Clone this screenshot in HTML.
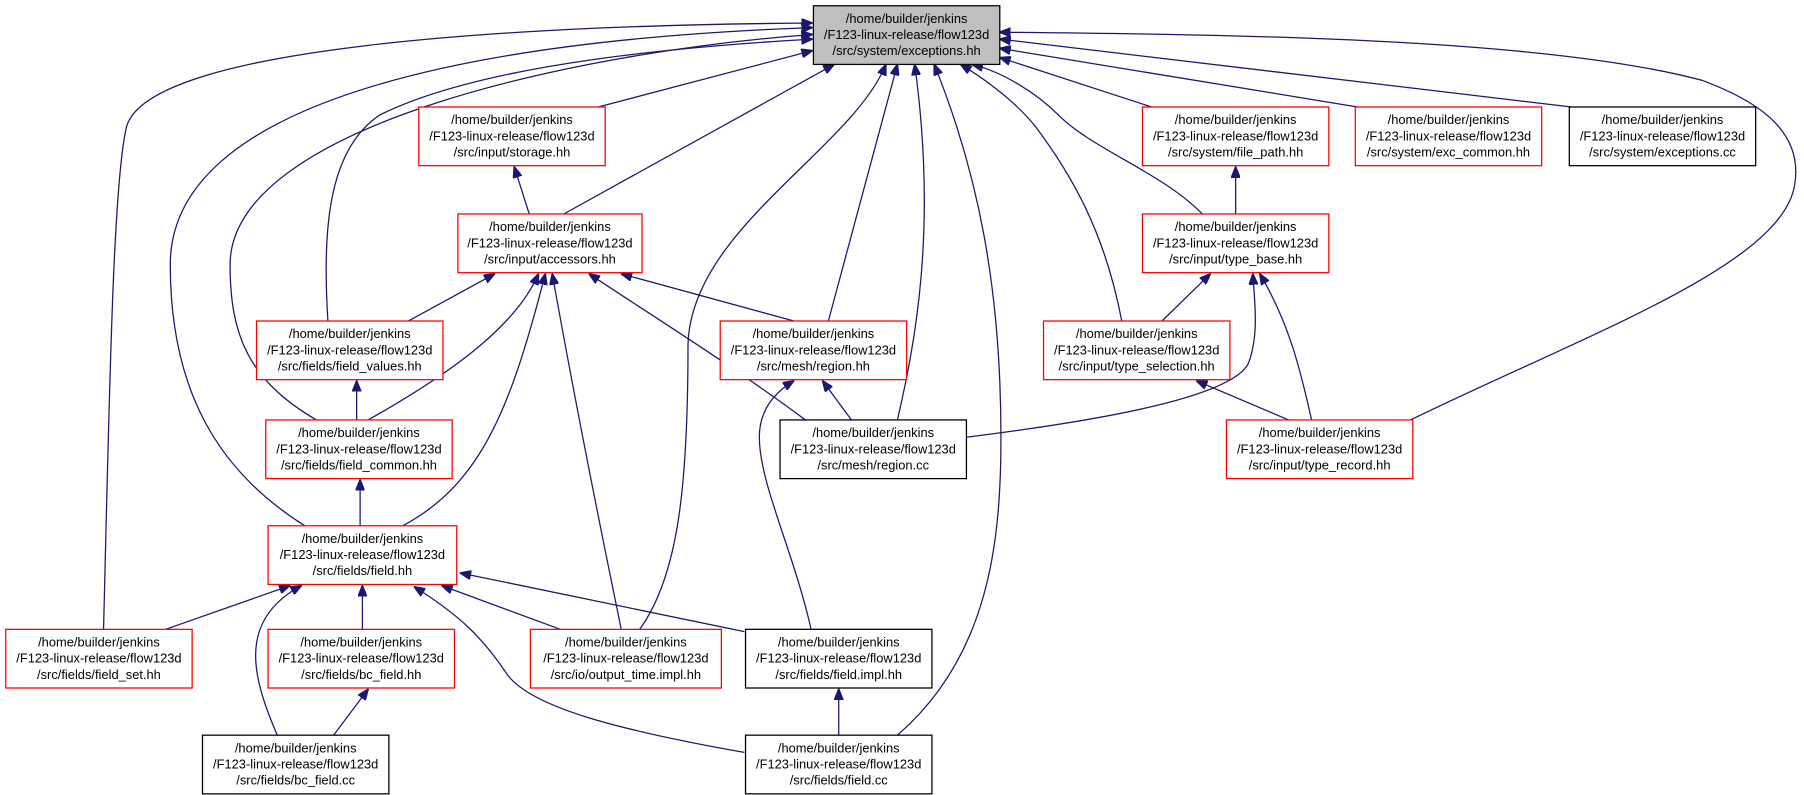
<!DOCTYPE html>
<html><head><meta charset="utf-8"><style>
html,body{margin:0;padding:0;background:#fff;}
svg{display:block;}
text{font-family:"Liberation Sans",Helvetica,Arial,sans-serif;font-size:11.2px;fill:#000;text-anchor:middle;}
.e{fill:none;stroke:#191970;stroke-width:1.1;}
.r{fill:#fff;stroke:#ff0000;stroke-width:1.1;}
.b{fill:#fff;stroke:#000;stroke-width:1.1;}
</style></head><body>
<svg width="1804" height="795" viewBox="0 0 1568 691" preserveAspectRatio="none" xmlns="http://www.w3.org/2000/svg">
<defs><marker id="a" markerWidth="10" markerHeight="8" refX="9.5" refY="4" orient="auto" markerUnits="userSpaceOnUse"><path d="M0,0 L10,4 L0,8 Z" fill="#191970" stroke="#191970"/></marker></defs>
<g class="e" marker-end="url(#a)">
<!-- to exceptions.hh -->
<path d="M90,547 C95,350 98,160 110,110 C130,40 450,22 706,20"/>
<path d="M265,457 C190,410 148,340 148,230 C148,90 400,35 706,24"/>
<path d="M275,365 C215,330 200,290 200,230 C200,110 500,45 706,30"/>
<path d="M285,279 C280,200 285,130 330,100 C420,55 600,40 706,34"/>
<path d="M520,93 L706,44"/>
<path d="M490,186 L725,56"/>
<path d="M556,547 C590,500 598,420 598,300 C600,200 740,130 770,56"/>
<path d="M720,279 L780,56"/>
<path d="M780,365 C795,300 815,200 795,56"/>
<path d="M780,639 C860,570 870,470 870,380 C870,250 850,150 812,56"/>
<path d="M975,279 C960,200 930,150 900,110 C880,85 850,65 835,56"/>
<path d="M1045,186 C1010,150 950,130 920,100 C900,80 870,62 845,56"/>
<path d="M1001,93 L869,50"/>
<path d="M1180,93 L869,42"/>
<path d="M1366,93 L869,34"/>
<path d="M1226,365 C1380,290 1550,230 1560,160 C1568,110 1520,85 1480,70 C1350,35 1100,30 869,28"/>
<!-- others -->
<path d="M460,186 L447,145"/>
<path d="M1074,186 L1074,145"/>
<path d="M355,279 L430,238"/>
<path d="M320,365 C400,320 450,280 468,238"/>
<path d="M350,457 C420,420 445,350 474,238"/>
<path d="M540,547 C520,450 500,350 480,238"/>
<path d="M700,365 C640,320 560,270 512,238"/>
<path d="M690,279 L540,238"/>
<path d="M740,365 L715,331"/>
<path d="M705,547 C690,480 660,420 660,380 C660,355 675,340 690,331"/>
<path d="M1010,279 L1052,238"/>
<path d="M840,380 C960,365 1070,345 1085,316 C1095,290 1090,260 1089,238"/>
<path d="M1140,365 C1130,320 1120,280 1095,238"/>
<path d="M1120,365 L1040,331"/>
<path d="M310,365 L310,331"/>
<path d="M313,457 L313,417"/>
<path d="M144,547 L252,509"/>
<path d="M241,639 C220,590 205,540 262,509"/>
<path d="M315,547 L315,509"/>
<path d="M487,547 L384,509"/>
<path d="M647,549 L400,498"/>
<path d="M647,654 C540,635 460,615 440,585 C420,555 400,535 360,510"/>
<path d="M290,639 L320,599"/>
<path d="M729,639 L729,599"/>
</g>
<g>
<rect x="707" y="5" width="162" height="51" fill="#bfbfbf" stroke="#000" stroke-width="1.1"/>
<text x="788" y="20">/home/builder/jenkins</text><text x="788" y="34">/F123-linux-release/flow123d</text><text x="788" y="48">/src/system/exceptions.hh</text>

<rect class="r" x="364" y="93" width="162" height="51"/>
<text x="445" y="108">/home/builder/jenkins</text><text x="445" y="122">/F123-linux-release/flow123d</text><text x="445" y="136">/src/input/storage.hh</text>

<rect class="r" x="398" y="186" width="160" height="51"/>
<text x="478" y="201">/home/builder/jenkins</text><text x="478" y="215">/F123-linux-release/flow123d</text><text x="478" y="229">/src/input/accessors.hh</text>

<rect class="r" x="993" y="93" width="162" height="51"/>
<text x="1074" y="108">/home/builder/jenkins</text><text x="1074" y="122">/F123-linux-release/flow123d</text><text x="1074" y="136">/src/system/file_path.hh</text>

<rect class="r" x="1178" y="93" width="162" height="51"/>
<text x="1259" y="108">/home/builder/jenkins</text><text x="1259" y="122">/F123-linux-release/flow123d</text><text x="1259" y="136">/src/system/exc_common.hh</text>

<rect class="b" x="1364" y="93" width="162" height="51"/>
<text x="1445" y="108">/home/builder/jenkins</text><text x="1445" y="122">/F123-linux-release/flow123d</text><text x="1445" y="136">/src/system/exceptions.cc</text>

<rect class="r" x="993" y="186" width="162" height="51"/>
<text x="1074" y="201">/home/builder/jenkins</text><text x="1074" y="215">/F123-linux-release/flow123d</text><text x="1074" y="229">/src/input/type_base.hh</text>

<rect class="r" x="223" y="279" width="162" height="51"/>
<text x="304" y="294">/home/builder/jenkins</text><text x="304" y="308">/F123-linux-release/flow123d</text><text x="304" y="322">/src/fields/field_values.hh</text>

<rect class="r" x="626" y="279" width="162" height="51"/>
<text x="707" y="294">/home/builder/jenkins</text><text x="707" y="308">/F123-linux-release/flow123d</text><text x="707" y="322">/src/mesh/region.hh</text>

<rect class="r" x="907" y="279" width="162" height="51"/>
<text x="988" y="294">/home/builder/jenkins</text><text x="988" y="308">/F123-linux-release/flow123d</text><text x="988" y="322">/src/input/type_selection.hh</text>

<rect class="r" x="231" y="365" width="162" height="51"/>
<text x="312" y="380">/home/builder/jenkins</text><text x="312" y="394">/F123-linux-release/flow123d</text><text x="312" y="408">/src/fields/field_common.hh</text>

<rect class="b" x="678" y="365" width="162" height="51"/>
<text x="759" y="380">/home/builder/jenkins</text><text x="759" y="394">/F123-linux-release/flow123d</text><text x="759" y="408">/src/mesh/region.cc</text>

<rect class="r" x="1066" y="365" width="162" height="51"/>
<text x="1147" y="380">/home/builder/jenkins</text><text x="1147" y="394">/F123-linux-release/flow123d</text><text x="1147" y="408">/src/input/type_record.hh</text>

<rect class="r" x="233" y="457" width="164" height="51"/>
<text x="315" y="472">/home/builder/jenkins</text><text x="315" y="486">/F123-linux-release/flow123d</text><text x="315" y="500">/src/fields/field.hh</text>

<rect class="r" x="5" y="547" width="162" height="51"/>
<text x="86" y="562">/home/builder/jenkins</text><text x="86" y="576">/F123-linux-release/flow123d</text><text x="86" y="590">/src/fields/field_set.hh</text>

<rect class="r" x="233" y="547" width="162" height="51"/>
<text x="314" y="562">/home/builder/jenkins</text><text x="314" y="576">/F123-linux-release/flow123d</text><text x="314" y="590">/src/fields/bc_field.hh</text>

<rect class="r" x="461" y="547" width="166" height="51"/>
<text x="544" y="562">/home/builder/jenkins</text><text x="544" y="576">/F123-linux-release/flow123d</text><text x="544" y="590">/src/io/output_time.impl.hh</text>

<rect class="b" x="648" y="547" width="162" height="51"/>
<text x="729" y="562">/home/builder/jenkins</text><text x="729" y="576">/F123-linux-release/flow123d</text><text x="729" y="590">/src/fields/field.impl.hh</text>

<rect class="b" x="176" y="639" width="162" height="51"/>
<text x="257" y="654">/home/builder/jenkins</text><text x="257" y="668">/F123-linux-release/flow123d</text><text x="257" y="682">/src/fields/bc_field.cc</text>

<rect class="b" x="648" y="639" width="162" height="51"/>
<text x="729" y="654">/home/builder/jenkins</text><text x="729" y="668">/F123-linux-release/flow123d</text><text x="729" y="682">/src/fields/field.cc</text>
</g>
</svg>
</body></html>
